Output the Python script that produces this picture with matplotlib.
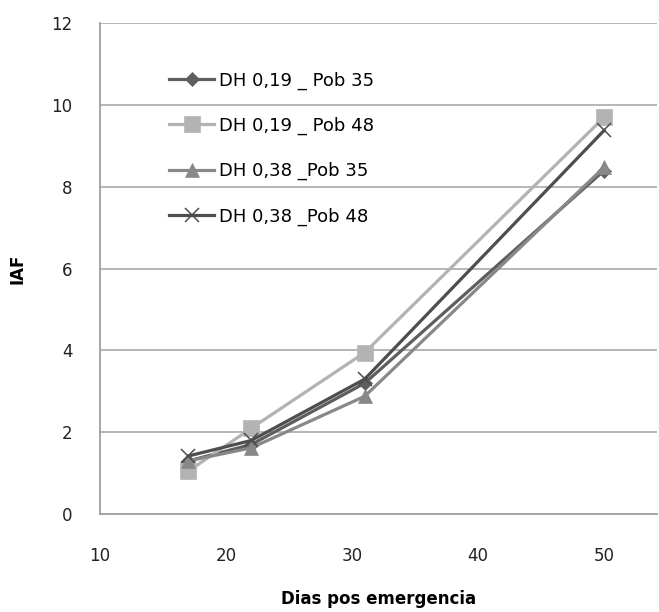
import matplotlib.pyplot as plt

plt.rcParams['font.family'] = ['DejaVu Sans']

# Data
dias = [17, 22, 31, 50]
dh019_pob35 = [1.3, 1.7, 3.2, 8.4]
dh019_pob48 = [1.05, 2.1, 3.95, 9.7]
dh038_pob35 = [1.3, 1.62, 2.88, 8.48]
dh038_pob48 = [1.42, 1.8, 3.3, 9.38]

labels = ['DH 0,19 _ Pob 35', 'DH 0,19 _ Pob 48', 'DH 0,38 _Pob 35', 'DH 0,38 _Pob 48']
series = [dh019_pob35, dh019_pob48, dh038_pob35, dh038_pob48]
colors = ['#5e5e5e', '#b3b3b3', '#888888', '#4e4e4e']
markers = ['D', 's', '^', 'x']
msizes = [7, 11, 10, 10]

fig = plt.figure(figsize=(6.59, 6.12), dpi=100)
ax = fig.add_axes([0.152, 0.160, 0.845, 0.802])

for y, lab, c, m, ms in zip(series, labels, colors, markers, msizes):
    ax.plot(dias, y, color=c, lw=2.3, marker=m, markersize=ms, label=lab,
            markeredgewidth=1.1 if m == 'x' else 0.5, markeredgecolor=c)

ax.set_xlim(10, 54.2)
ax.set_ylim(0, 12)
ax.set_xticks([10, 20, 30, 40, 50])
ax.set_yticks(range(0, 13, 2))
ax.grid(axis='y', color='#b0b0b0', lw=1.3)
ax.set_axisbelow(True)
for s in ['top', 'right']:
    ax.spines[s].set_visible(False)
for s in ['left', 'bottom']:
    ax.spines[s].set_color('#a0a0a0')
    ax.spines[s].set_linewidth(1.3)
ax.tick_params(length=0, labelsize=12, colors='#222222')
ax.tick_params(axis='x', pad=24)
ax.tick_params(axis='y', pad=20)

ax.set_xlabel('Dias pos emergencia', fontsize=12, fontweight='bold', labelpad=18)
ax.set_ylabel('IAF', fontsize=12, fontweight='bold', labelpad=18)

ax.legend(loc='upper left', bbox_to_anchor=(0.095, 0.935), frameon=False,
          fontsize=13, handlelength=2.5, handletextpad=0.25, labelspacing=1.5)

fig.savefig('out.png', dpi=100)
